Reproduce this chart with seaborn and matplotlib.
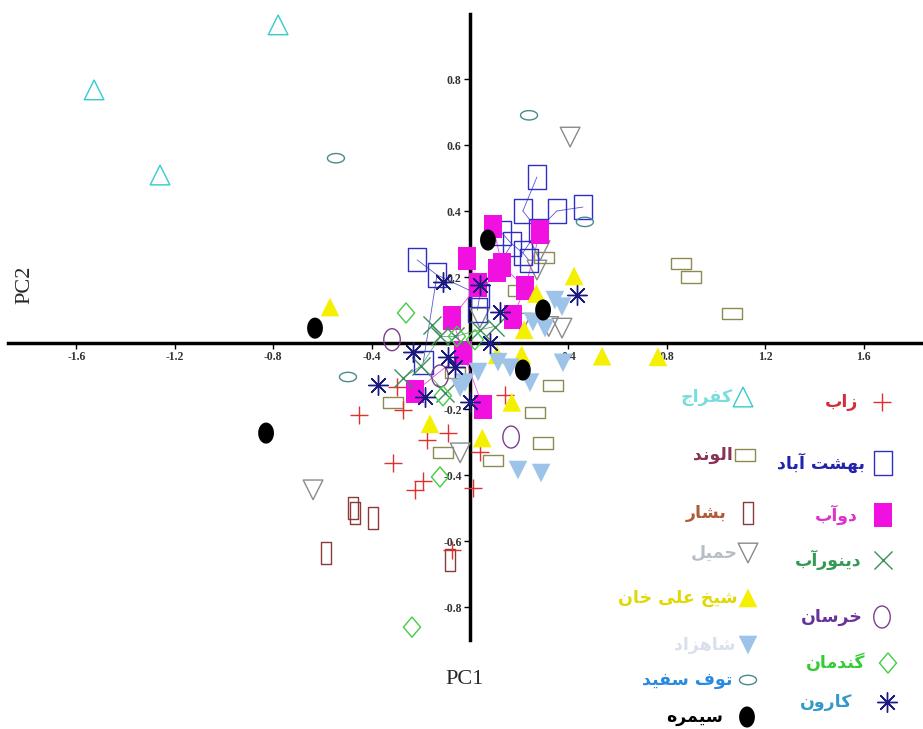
import numpy as np
import pandas as pd
import matplotlib
matplotlib.use("Agg")
import matplotlib.pyplot as plt
from matplotlib.path import Path
import seaborn as sns

# PCA scores, one list of (PC1, PC2) per group
zab = [(-0.451, -0.218), (-0.272, -0.203), (-0.297, -0.133), (-0.313, -0.364), (-0.175, -0.294),
       (-0.089, -0.273), (-0.224, -0.445), (-0.19, -0.418), (-0.073, -0.627), (0.012, -0.439),
       (0.142, -0.158), (0.04, -0.33)]
behesht_abad = [(0.272, 0.503), (0.215, 0.40), (0.353, 0.40), (0.459, 0.412), (0.276, 0.342),
                (0.13, 0.333), (0.215, 0.273), (0.24, 0.25), (-0.215, 0.252), (-0.134, 0.206),
                (0.04, 0.145), (0.03, 0.10), (-0.19, -0.058), (0.17, 0.30)]
doab = [(0.094, 0.352), (0.285, 0.336), (-0.012, 0.257), (0.13, 0.236), (0.224, 0.167),
        (0.033, 0.176), (-0.073, 0.076), (0.175, 0.079), (-0.028, -0.03), (-0.224, -0.148),
        (0.053, -0.194), (0.11, 0.22)]
dinorab = [(-0.155, 0.055), (-0.12, 0.02), (-0.272, -0.106), (-0.06, 0.02), (0.04, 0.04),
           (-0.2, -0.07), (0.1, 0.05), (-0.1, -0.15)]
khorsan = [(-0.317, 0.01), (0.167, -0.285), (-0.122, -0.1)]
gandoman = [(-0.26, 0.091), (-0.236, -0.861), (-0.122, -0.406), (-0.11, -0.16), (-0.053, 0.02),
            (0.02, 0.01)]
karun = [(-0.11, 0.185), (0.04, 0.176), (0.122, 0.094), (0.435, 0.145), (-0.232, -0.027),
         (-0.089, -0.042), (-0.374, -0.127), (-0.183, -0.164), (0.081, 0.0), (-0.06, -0.073),
         (0.0, -0.18)]
kafraj = [(-0.78, 0.964), (-1.528, 0.767), (-1.26, 0.509)]
alvand = [(0.858, 0.242), (0.898, 0.2), (1.065, 0.088), (0.337, -0.13), (0.264, -0.212),
          (0.297, -0.303), (0.094, -0.355), (-0.11, -0.333), (-0.313, -0.179), (0.195, 0.16),
          (0.3, 0.26), (-0.06, -0.09)]
bashar = [(-0.476, -0.5), (-0.466, -0.515), (-0.394, -0.53), (-0.585, -0.636), (-0.081, -0.658)]
hamil = [(0.407, 0.624), (-0.638, -0.445), (0.272, 0.221), (0.285, 0.28), (0.374, 0.045),
         (0.04, 0.076), (-0.04, -0.333), (0.32, 0.05), (0.21, 0.06)]
sheikh_ali_khan = [(-0.569, 0.109), (0.423, 0.203), (0.537, -0.04), (0.764, -0.042), (0.21, -0.036),
                   (0.11, -0.036), (0.17, -0.18), (-0.163, -0.245), (0.05, -0.288), (0.27, 0.15),
                   (0.22, 0.04)]
shahzad = [(0.195, -0.385), (0.289, -0.394), (0.378, -0.06), (0.114, -0.058), (0.163, -0.075),
           (0.244, -0.12), (0.033, -0.088), (0.345, 0.13), (0.374, 0.11), (0.256, 0.064),
           (0.305, 0.045), (-0.04, -0.136), (-0.02, -0.12)]
tuf_sefid = [(-0.545, 0.56), (0.24, 0.69), (0.467, 0.367), (-0.496, -0.103)]
seymareh = [(-0.63, 0.045), (-0.829, -0.273), (0.073, 0.312), (0.297, 0.1), (0.215, -0.082)]

xticks = [-1.6, -1.2, -0.8, -0.4, 0.4, 0.8, 1.2, 1.6]
yticks = [-0.8, -0.6, -0.4, -0.2, 0.2, 0.4, 0.6, 0.8]


def ellipse(w, h):
    t = np.linspace(0, 2 * np.pi, 60)
    return Path(np.column_stack([w * np.cos(t), h * np.sin(t)]), closed=True)


def rect(w, h):
    return Path([(-w, -h), (w, -h), (w, h), (-w, h), (-w, -h)], closed=True)


def diamond(w, h):
    return Path([(0, -h), (w, 0), (0, h), (-w, 0), (0, -h)], closed=True)


def mst_edges(pts):
    # Prim's minimal spanning tree, used for the thin joining lines
    p = np.asarray(pts)
    n = len(p)
    d = np.hypot(p[:, None, 0] - p[None, :, 0], p[:, None, 1] - p[None, :, 1])
    inside = [0]
    edges = []
    while len(inside) < n:
        best = None
        for i in inside:
            for j in range(n):
                if j in inside:
                    continue
                if best is None or d[i, j] < best[0]:
                    best = (d[i, j], i, j)
        edges.append((best[1], best[2]))
        inside.append(best[2])
    return edges


# name, points, marker, size, marker colour, filled, text colour, legend px, joined
groups = [
    ("الوند", alvand, rect(1, 0.55), 210, "#8b8b50", False, "#883355", (745, 455, 733), False),
    ("بشار", bashar, rect(0.45, 1), 250, "#8b3a3a", False, "#b05a3a", (748, 513, 727), False),
    ("حمیل", hamil, "v", 200, "#8a8a8a", False, "#b8bcc8", (748, 553, 738), False),
    ("زاب", zab, "+", 170, "#e03030", None, "#d0303a", (882, 402, 858), False),
    ("بهشت آباد", behesht_abad, rect(0.8, 1), 280, "#2e2ec8", False, "#2222aa", (883, 463, 865), True),
    ("دوآب", doab, rect(0.8, 1), 280, "#f010e0", True, "#dd33cc", (883, 515, 858), True),
    ("دینورآب", dinorab, "x", 170, "#3d8f5a", None, "#339955", (883, 560, 862), True),
    ("خرسان", khorsan, ellipse(0.75, 1), 250, "#7b3f8c", False, "#663399", (882, 617, 863), False),
    ("گندمان", gandoman, diamond(0.85, 1), 210, "#44cc44", False, "#33cc33", (888, 663, 865), False),
    ("توف سفید", tuf_sefid, ellipse(1, 0.55), 150, "#4a8a8a", False, "#2a8ae0", (748, 680, 732), False),
    ("کفراج", kafraj, "^", 200, "#33cccc", False, "#77dddd", (743, 397, 733), False),
    ("شیخ علی خان", sheikh_ali_khan, "^", 180, "#f5f000", True, "#e0d800", (748, 598, 737), False),
    ("شاهزاد", shahzad, "v", 180, "#9ec3e8", True, "#d8e0ec", (748, 645, 735), False),
    ("کارون", karun, (8, 2, 0), 200, "#1a1a80", None, "#3399cc", (887, 702, 852), False),
    ("سیمره", seymareh, ellipse(0.75, 1), 230, "#000000", True, "#000000", (747, 717, 723), False),
]

# Persian letters -> (isolated, final, initial, medial) presentation forms
FORMS = {
    'ا': ('\uFE8D', '\uFE8E', None, None), 'آ': ('\uFE81', '\uFE82', None, None),
    'ب': ('\uFE8F', '\uFE90', '\uFE91', '\uFE92'), 'ت': ('\uFE95', '\uFE96', '\uFE97', '\uFE98'),
    'ج': ('\uFE9D', '\uFE9E', '\uFE9F', '\uFEA0'), 'ح': ('\uFEA1', '\uFEA2', '\uFEA3', '\uFEA4'),
    'خ': ('\uFEA5', '\uFEA6', '\uFEA7', '\uFEA8'), 'د': ('\uFEA9', '\uFEAA', None, None),
    'ر': ('\uFEAD', '\uFEAE', None, None), 'ز': ('\uFEAF', '\uFEB0', None, None),
    'س': ('\uFEB1', '\uFEB2', '\uFEB3', '\uFEB4'), 'ش': ('\uFEB5', '\uFEB6', '\uFEB7', '\uFEB8'),
    'ع': ('\uFEC9', '\uFECA', '\uFECB', '\uFECC'), 'ف': ('\uFED1', '\uFED2', '\uFED3', '\uFED4'),
    'ل': ('\uFEDD', '\uFEDE', '\uFEDF', '\uFEE0'), 'م': ('\uFEE1', '\uFEE2', '\uFEE3', '\uFEE4'),
    'ن': ('\uFEE5', '\uFEE6', '\uFEE7', '\uFEE8'), 'ه': ('\uFEE9', '\uFEEA', '\uFEEB', '\uFEEC'),
    'و': ('\uFEED', '\uFEEE', None, None), 'ک': ('\uFB8E', '\uFB8F', '\uFB90', '\uFB91'),
    'گ': ('\uFB92', '\uFB93', '\uFB94', '\uFB95'), 'ی': ('\uFBFC', '\uFBFD', '\uFBFE', '\uFBFF'),
}


def shape(text):
    # matplotlib has no Arabic shaping, so pick joined forms and reverse for RTL
    out = []
    for i, ch in enumerate(text):
        f = FORMS.get(ch)
        if f is None:
            out.append(ch)
            continue
        prev = FORMS.get(text[i - 1]) if i > 0 else None
        nxt = FORMS.get(text[i + 1]) if i < len(text) - 1 else None
        jp = prev is not None and prev[2] is not None
        jn = f[2] is not None and nxt is not None
        out.append(f[3] if jp and jn else f[1] if jp else f[2] if jn else f[0])
    return ''.join(reversed(out))


sns.set_theme(style="white")
plt.rcParams['font.family'] = ['DejaVu Sans']

W, H = 923, 729
fig = plt.figure(figsize=(W / 100, H / 100), dpi=100)
ax = fig.add_axes([0, 0, 1, 1])
x0, y0, sx, sy = 470, 343, 246, 330
ax.set_xlim(-x0 / sx, (W - x0) / sx)
ax.set_ylim((y0 - H) / sy, y0 / sy)

for name, pts, mk, size, col, filled, tcol, leg, joined in groups:
    df = pd.DataFrame(pts, columns=["PC1", "PC2"])
    if joined:
        for i, j in mst_edges(pts):
            ax.plot(df.PC1[[i, j]], df.PC2[[i, j]], color=col, lw=0.6, alpha=0.8, zorder=2.5)
    kw = dict(marker=mk, s=size, linewidth=1.0, zorder=3)
    if filled is None:
        kw.update(color=col)
    elif filled:
        kw.update(color=col, edgecolor="none")
    else:
        kw.update(color=col, facecolors="none", edgecolor=col)
    sns.scatterplot(data=df, x="PC1", y="PC2", ax=ax, legend=False, **kw)
    # legend entry
    mx, my, tx = leg
    lk = dict(kw)
    lk.pop("zorder")
    ax.scatter([mx / W], [1 - my / H], transform=ax.transAxes, clip_on=False, zorder=4, **lk)
    ax.text(tx / W, 1 - my / H, shape(name), transform=ax.transAxes, ha="right", va="center",
            color=tcol, fontsize=12.5, fontweight="bold", family=["DejaVu Sans"])

for s in ["top", "right"]:
    ax.spines[s].set_visible(False)
ax.spines["left"].set_position(("data", 0))
ax.spines["bottom"].set_position(("data", 0))
ax.spines["left"].set_bounds((y0 - 640) / sy, (y0 - 14) / sy)
ax.spines["bottom"].set_bounds((8 - x0) / sx, (W - x0) / sx)
for s in ["left", "bottom"]:
    ax.spines[s].set_linewidth(2.5)
    ax.spines[s].set_color("black")
    ax.spines[s].set_zorder(2)

ax.set_xticks(xticks)
ax.set_yticks(yticks)
ax.set_xticklabels([f"{v:g}" for v in xticks])
ax.set_yticklabels([f"{v:g}" for v in yticks])
ax.tick_params(axis="both", direction="out", length=4, width=1, pad=2, colors="black",
               labelsize=8.5, left=True, bottom=True)
for lab in ax.get_xticklabels() + ax.get_yticklabels():
    lab.set_family(["Liberation Serif"])
    lab.set_fontweight("bold")
    lab.set_color("#333333")
ax.set_xlabel("")
ax.set_ylabel("")
ax.grid(False)

fig.text(465 / W, 1 - 680 / H, "PC1", ha="center", va="center", fontsize=16,
         family=["Liberation Serif"])
fig.text(25 / W, 1 - 285 / H, "PC2", ha="center", va="center", fontsize=16, rotation=90,
         family=["Liberation Serif"])

fig.savefig("out.png", dpi=100)
